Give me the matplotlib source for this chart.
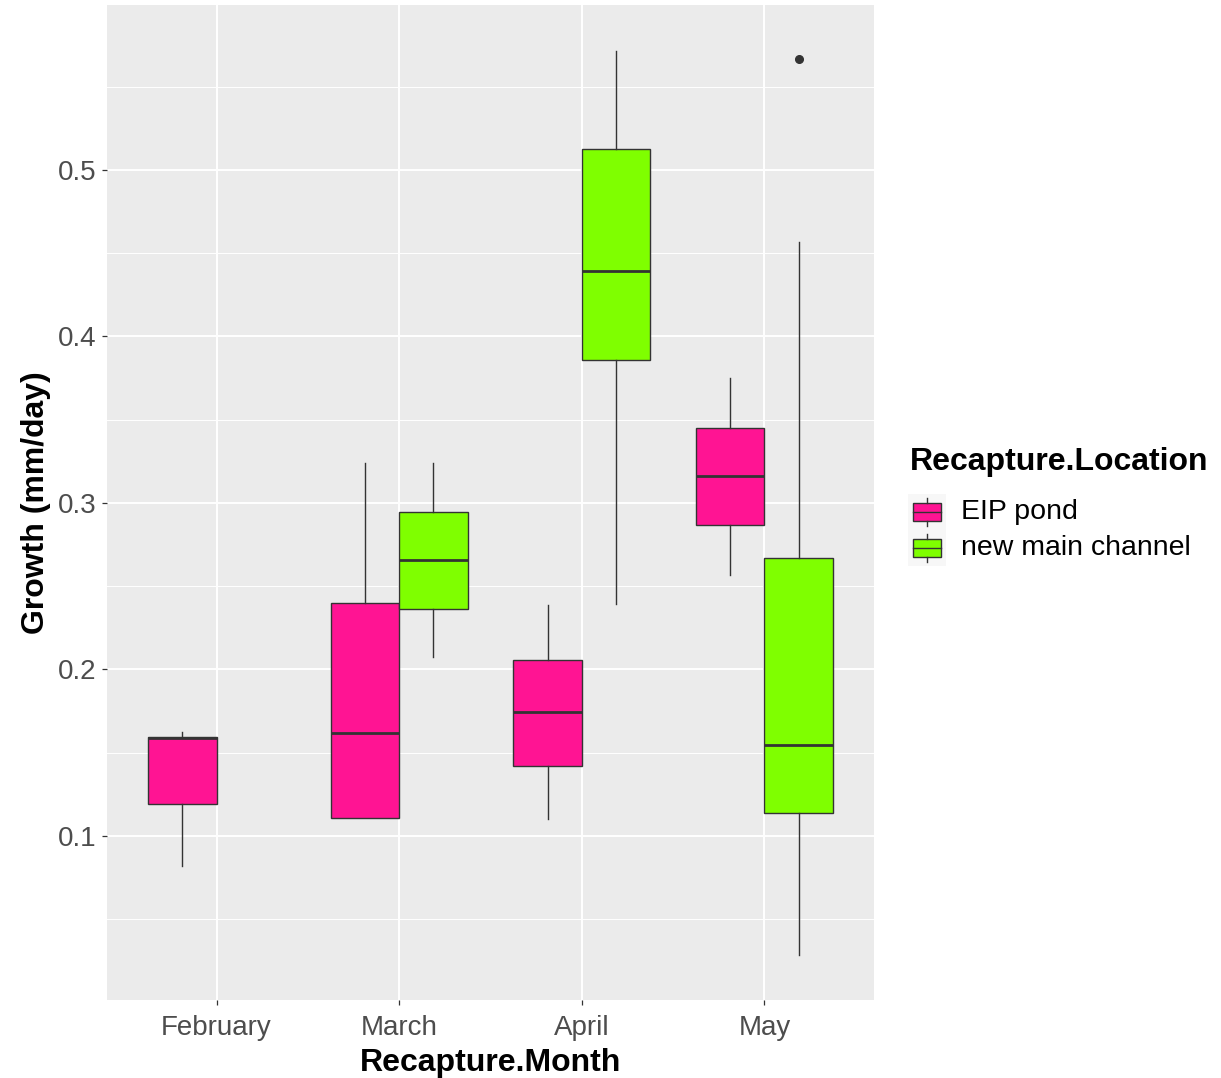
import matplotlib.pyplot as plt
from matplotlib.patches import Rectangle

plt.rcParams['font.family'] = ['Liberation Sans', 'DejaVu Sans']

# data
months = ["February", "March", "April", "May"]
locations = ["EIP pond", "new main channel"]
colors = ["#FF1493", "#7FFF00"]

eip_whislo = [0.082, 0.111, 0.110, 0.257]
eip_q1 = [0.119, 0.111, 0.142, 0.2865]
eip_med = [0.1586, 0.162, 0.1745, 0.316]
eip_q3 = [0.1595, 0.240, 0.2058, 0.345]
eip_whishi = [0.1625, 0.324, 0.2385, 0.375]
eip_fliers = [[], [], [], []]

# no 'new main channel' fish in February
chan_whislo = [None, 0.2075, 0.2394, 0.0286]
chan_q1 = [None, 0.2363, 0.386, 0.1137]
chan_med = [None, 0.2656, 0.4392, 0.1547]
chan_q3 = [None, 0.2946, 0.5124, 0.2669]
chan_whishi = [None, 0.324, 0.5714, 0.4567]
chan_fliers = [[], [], [], [0.5664]]

y_ticks = [0.1, 0.2, 0.3, 0.4, 0.5]
y_minor = [0.05, 0.15, 0.25, 0.35, 0.45, 0.55]

series = [
    (eip_whislo, eip_q1, eip_med, eip_q3, eip_whishi, eip_fliers),
    (chan_whislo, chan_q1, chan_med, chan_q3, chan_whishi, chan_fliers),
]

W, H = 1221, 1078
fig = plt.figure(figsize=(W / 100, H / 100), dpi=100)
ax = fig.add_axes([107 / W, 1 - 1000 / H, (874 - 107) / W, (1000 - 5) / H])
ax.set_facecolor("#EBEBEB")
for s in ax.spines.values():
    s.set_visible(False)

dodge = 0.75 / 2
edge = "#333333"
for k, (lo, q1, med, q3, hi, fl) in enumerate(series):
    stats, pos = [], []
    for i in range(len(months)):
        if med[i] is None:
            continue
        stats.append(dict(whislo=lo[i], q1=q1[i], med=med[i], q3=q3[i],
                          whishi=hi[i], fliers=fl[i]))
        pos.append(i + 1 + (k - 0.5) * dodge)
    ax.bxp(stats, positions=pos, widths=dodge, patch_artist=True,
           showcaps=False, showfliers=True,
           boxprops=dict(facecolor=colors[k], edgecolor=edge, linewidth=1.0),
           medianprops=dict(color=edge, linewidth=2.0),
           whiskerprops=dict(color=edge, linewidth=1.0),
           flierprops=dict(marker="o", markersize=5.5, markerfacecolor=edge,
                           markeredgecolor=edge), zorder=3)

ax.set_xlim(0.4, 4.6)
ax.set_ylim(0.0015, 0.599)
ax.set_xticks(range(1, len(months) + 1))
ax.set_xticklabels(months)
ax.set_yticks(y_ticks)
ax.set_yticklabels([f"{v:.1f}" for v in y_ticks])
ax.set_yticks(y_minor, minor=True)
ax.grid(True, which="major", color="white", linewidth=1.4, zorder=0)
ax.grid(True, which="minor", axis="y", color="white", linewidth=0.7, zorder=0)
ax.set_axisbelow(True)
ax.tick_params(which="major", length=3.5, width=0.9, color="#333333",
               labelsize=20, labelcolor="#4D4D4D", pad=4)
ax.tick_params(axis="x", which="major", pad=7)
ax.tick_params(which="minor", length=0)

ax.set_xlabel("Recapture.Month", fontsize=23, fontweight="bold", labelpad=5)
ax.set_ylabel("Growth (mm/day)", fontsize=23, fontweight="bold", labelpad=5)

# legend drawn by hand, ggplot style
fig.text(910 / W, 1 - 462 / H, "Recapture.Location", fontsize=23,
         fontweight="bold", va="center", ha="left")
lax = fig.add_axes([908 / W, 1 - 566 / H, 38 / W, 72 / H])
lax.set_xlim(0, 1)
lax.set_ylim(0, 2)
lax.axis("off")
for k, lab in enumerate(locations):
    y0 = 1 - k  # top key first
    lax.add_patch(Rectangle((0, y0), 1, 1, facecolor="#F7F7F7", edgecolor="none"))
    lax.add_patch(Rectangle((0.13, y0 + 0.24), 0.74, 0.52, facecolor=colors[k],
                            edgecolor=edge, linewidth=1.0))
    lax.plot([0.13, 0.87], [y0 + 0.5, y0 + 0.5], color=edge, linewidth=1.0)
    lax.plot([0.5, 0.5], [y0 + 0.1, y0 + 0.24], color=edge, linewidth=1.0)
    lax.plot([0.5, 0.5], [y0 + 0.76, y0 + 0.9], color=edge, linewidth=1.0)
    fig.text(961 / W, 1 - (512 + 36 * k) / H, lab, fontsize=20.5,
             va="center", ha="left")

fig.savefig("out.png", dpi=100)
